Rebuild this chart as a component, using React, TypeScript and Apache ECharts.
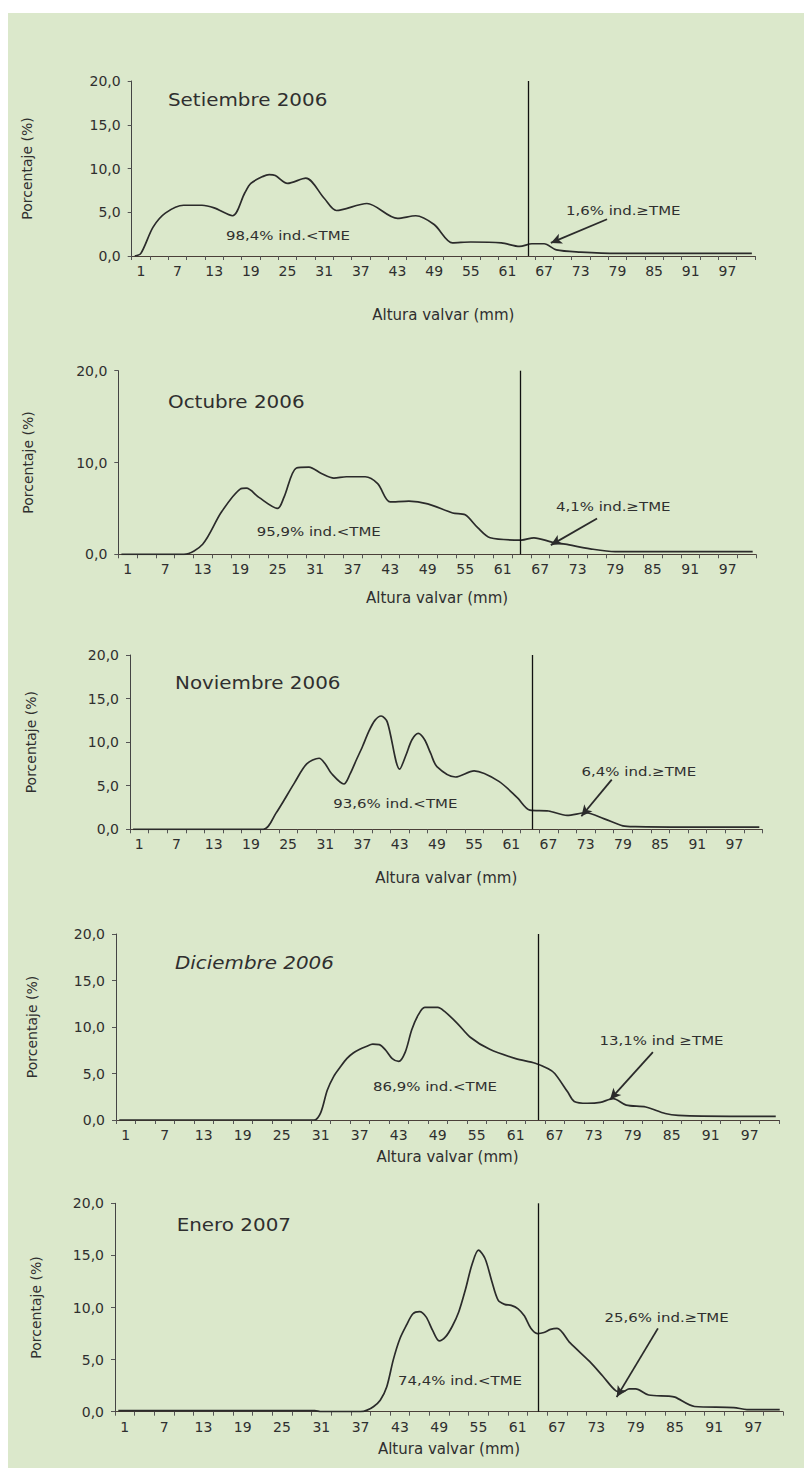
import React, { useEffect, useRef } from "react";
import * as echarts from "echarts";

// ---- tick labels of the x axis (Altura valvar, mm) ----
const xTickLabels = ["1", "7", "13", "19", "25", "31", "37", "43", "49", "55", "61", "67", "73", "79", "85", "91", "97"];

// ---- Setiembre 2006 ----
const sepMM = [1, 2, 4, 6, 9, 12, 14, 17, 19, 20, 22, 23, 24, 26, 29, 32, 34, 39, 44, 47, 50, 53, 56, 61, 64, 66, 68, 70, 74, 80, 90, 102];
const sepPct = [0, 0.3, 3.3, 4.9, 5.8, 5.8, 5.5, 4.6, 7.2, 8.3, 9.1, 9.3, 9.2, 8.3, 8.9, 6.6, 5.2, 6.0, 4.3, 4.6, 3.6, 1.5, 1.6, 1.5, 1.1, 1.4, 1.4, 0.7, 0.45, 0.3, 0.3, 0.3];

// ---- Octubre 2006 ----
const octMM = [1, 11, 14, 17, 20, 21, 23, 26, 27, 29, 31, 33, 35, 37, 40, 42, 44, 47, 50, 54, 56, 58, 60, 65, 67, 70, 72, 76, 80, 90, 102];
const octPct = [0, 0, 1.1, 4.6, 7.1, 7.2, 6.2, 5.0, 6.2, 9.4, 9.5, 8.8, 8.3, 8.45, 8.45, 7.7, 5.7, 5.8, 5.5, 4.5, 4.3, 2.9, 1.8, 1.55, 1.8, 1.3, 1.1, 0.6, 0.3, 0.3, 0.3];

// ---- Noviembre 2006 ----
const novMM = [1, 22, 24, 27, 29, 31, 32, 33, 35, 36, 37, 38, 39, 40, 41, 42, 44, 45, 46, 47, 48, 49, 50, 53, 56, 60, 63, 65, 68, 71, 74, 77, 80, 82, 90, 102];
const novPct = [0, 0, 1.8, 5.3, 7.5, 8.15, 7.5, 6.4, 5.2, 6.35, 7.95, 9.5, 11.2, 12.5, 13.0, 12.3, 6.9, 8.5, 10.3, 11.0, 10.3, 8.7, 7.2, 6.0, 6.7, 5.5, 3.6, 2.2, 2.1, 1.6, 1.9, 1.2, 0.4, 0.3, 0.25, 0.25];

// ---- Diciembre 2006 ----
const dicMM = [1, 31, 32, 33, 34, 35, 36, 37, 38, 39, 40, 41, 42, 43, 44, 45, 46, 47, 48, 50, 51, 53, 55, 58, 62, 65, 67, 68, 70, 71, 73, 75, 77, 79, 82, 85, 87, 95, 102];
const dicPct = [0, 0, 0.8, 3.2, 4.7, 5.7, 6.6, 7.2, 7.6, 7.9, 8.15, 8.1, 7.5, 6.6, 6.3, 7.3, 9.7, 11.3, 12.1, 12.1, 11.7, 10.4, 8.9, 7.6, 6.6, 6.1, 5.5, 5.0, 3.0, 2.0, 1.8, 1.9, 2.3, 1.6, 1.4, 0.7, 0.5, 0.4, 0.4];

// ---- Enero 2007 ----
const eneMM = [1, 31, 32, 38, 39, 40, 41, 42, 43, 44, 45, 46, 47, 48, 49, 50, 51, 52, 53, 54, 55, 56, 57, 58, 59, 60, 61, 62, 63, 64, 65, 66, 67, 68, 70, 73, 75, 77, 78, 79, 80, 82, 85, 86, 89, 95, 97, 102];
const enePct = [0.1, 0.1, 0, 0, 0.15, 0.5, 1.1, 2.4, 5.0, 7.0, 8.3, 9.4, 9.6, 9.1, 7.8, 6.8, 7.2, 8.2, 9.6, 11.7, 14.1, 15.5, 14.7, 12.6, 10.7, 10.3, 10.2, 9.9, 9.2, 8.0, 7.5, 7.6, 7.9, 8.0, 6.6, 4.8, 3.4, 2.0, 1.9, 2.2, 2.2, 1.6, 1.5, 1.4, 0.5, 0.4, 0.2, 0.2];

// ---- texts ----
const titles = ["Setiembre 2006", "Octubre 2006", "Noviembre 2006", "Diciembre 2006", "Enero 2007"];
const belowTexts = ["98,4% ind.<TME", "95,9% ind.<TME", "93,6% ind.<TME", "86,9% ind.<TME", "74,4% ind.<TME"];
const aboveTexts = ["1,6% ind.\u2265TME", "4,1% ind.\u2265TME", "6,4% ind.\u2265TME", "13,1% ind \u2265TME", "25,6% ind.\u2265TME"];

// TME line position (mm) and arrows [fromMM, fromPct, toMM, toPct]
const tmeLine = [65.4, 64.8, 65.3, 65.4, 65.1];
const arrows = [
  [78.3, 4.2, 69.1, 1.5],
  [77.1, 3.9, 69.7, 1.0],
  [78.2, 5.7, 73.3, 1.5],
  [83.1, 7.3, 76.5, 2.2],
  [83.4, 8.0, 77.1, 1.4],
];
const yIntervals = [5, 10, 5, 5, 5];

// ---- layout (pixels) ----
const grids = [
  { left: 131.7, top: 81, width: 623.2, height: 175 },
  { left: 118.3, top: 370.7, width: 637.5, height: 183.6 },
  { left: 130, top: 655, width: 632.4, height: 174.3 },
  { left: 116, top: 934, width: 663, height: 186 },
  { left: 115, top: 1203.3, width: 668, height: 208.4 },
];
const xNameGaps = [51, 36, 41, 29, 30];
const yNameGaps = [98, 83, 92, 77, 72];
const titlePos = [[168, 100], [168, 401.7], [175, 683.3], [175, 963.3], [176.7, 1225]];
const belowPos = [[226, 235], [256.7, 531], [333.3, 803.3], [373, 1086.7], [398, 1380]];
const abovePos = [[566, 210], [556, 506.7], [581.6, 771], [599.5, 1040], [604.6, 1317.3]];

const FONT = "DejaVu Sans";
const TXT = "#2f2f2f";

export default function App() {
  const ref = useRef<HTMLDivElement>(null);

  useEffect(() => {
    if (!ref.current) return;
    const chart = echarts.init(ref.current, undefined, { renderer: "svg" });

    const xCats: string[] = [];
    for (let k = 0; k < 34; k++) xCats.push(k % 2 === 0 ? xTickLabels[k / 2] ?? "" : "");

    const data = [
      [sepMM, sepPct],
      [octMM, octPct],
      [novMM, novPct],
      [dicMM, dicPct],
      [eneMM, enePct],
    ];

    const xAxis: any[] = [];
    const yAxis: any[] = [];
    const series: any[] = [];
    const graphic: any[] = [
      { type: "rect", shape: { x: 8, y: 13, width: 796, height: 1455 }, style: { fill: "#dbe8cb" }, z: -10, silent: true },
    ];

    grids.forEach((g, i) => {
      xAxis.push({
        type: "category",
        gridIndex: i,
        data: xCats,
        boundaryGap: true,
        axisLine: { show: true, lineStyle: { color: "#4a3f38", width: 1 } },
        axisTick: { show: true, interval: 0, length: 4, lineStyle: { color: "#555" } },
        axisLabel: { interval: 0, color: TXT, fontFamily: FONT, fontSize: 14, margin: 8 },
        splitLine: { show: false },
        name: "Altura valvar (mm)",
        nameLocation: "middle",
        nameGap: xNameGaps[i],
        nameTextStyle: { color: TXT, fontFamily: FONT, fontSize: 15 },
      });
      xAxis.push({ type: "value", gridIndex: i, min: 0.5, max: 102.5, show: false });
      yAxis.push({
        type: "value",
        gridIndex: i,
        min: 0,
        max: 20,
        interval: yIntervals[i],
        axisLine: { show: true, lineStyle: { color: "#444", width: 1 } },
        axisTick: { show: true, length: 4, lineStyle: { color: "#555" } },
        splitLine: { show: false },
        axisLabel: {
          color: TXT,
          fontFamily: FONT,
          fontSize: 14,
          margin: 11,
          formatter: (v: number) => v.toFixed(1).replace(".", ","),
        },
        name: "Porcentaje (%)",
        nameLocation: "middle",
        nameGap: yNameGaps[i],
        nameTextStyle: { color: TXT, fontFamily: FONT, fontSize: 14 },
      });
      const [mm, pct] = data[i];
      const a = arrows[i];
      series.push({
        type: "line",
        xAxisIndex: 2 * i + 1,
        yAxisIndex: i,
        data: mm.map((m, j) => [m, pct[j]]),
        smooth: 0.3,
        showSymbol: false,
        symbol: "none",
        lineStyle: { color: "#2b2b2b", width: 1.7 },
        markLine: {
          silent: true,
          animation: false,
          label: { show: false },
          symbol: ["none", "none"],
          data: [
            [
              { coord: [tmeLine[i], 0], symbol: "none", lineStyle: { color: "#111", width: 1.3, type: "solid" } },
              { coord: [tmeLine[i], 20], symbol: "none" },
            ],
            [
              { coord: [a[0], a[1]], symbol: "none", lineStyle: { color: "#2b2b2b", width: 1.8, type: "solid" } },
              { coord: [a[2], a[3]], symbol: "arrow", symbolSize: [8, 11] },
            ],
          ],
        },
      });

      const italic = i === 3;
      graphic.push({
        type: "text",
        x: titlePos[i][0],
        y: titlePos[i][1],
        scaleX: 1.17,
        style: {
          text: titles[i],
          fontFamily: FONT,
          fontSize: 17,
          fontStyle: italic ? "italic" : "normal",
          fill: TXT,
          verticalAlign: "middle",
          align: "left",
        },
      });
      graphic.push({
        type: "text",
        x: belowPos[i][0],
        y: belowPos[i][1],
        scaleX: 1.15,
        style: { text: belowTexts[i], fontFamily: FONT, fontSize: 13, fill: TXT, verticalAlign: "middle", align: "left" },
      });
      graphic.push({
        type: "text",
        x: abovePos[i][0],
        y: abovePos[i][1],
        scaleX: 1.15,
        style: { text: aboveTexts[i], fontFamily: FONT, fontSize: 13, fill: TXT, verticalAlign: "middle", align: "left" },
      });
    });

    chart.setOption({
      animation: false,
      backgroundColor: "#ffffff",
      grid: grids.map((g) => ({ ...g, containLabel: false })),
      xAxis,
      yAxis,
      series,
      graphic,
    });

    return () => chart.dispose();
  }, []);

  return <div ref={ref} style={{ position: "absolute", left: 0, top: 0, width: 804, height: 1468 }} />;
}
